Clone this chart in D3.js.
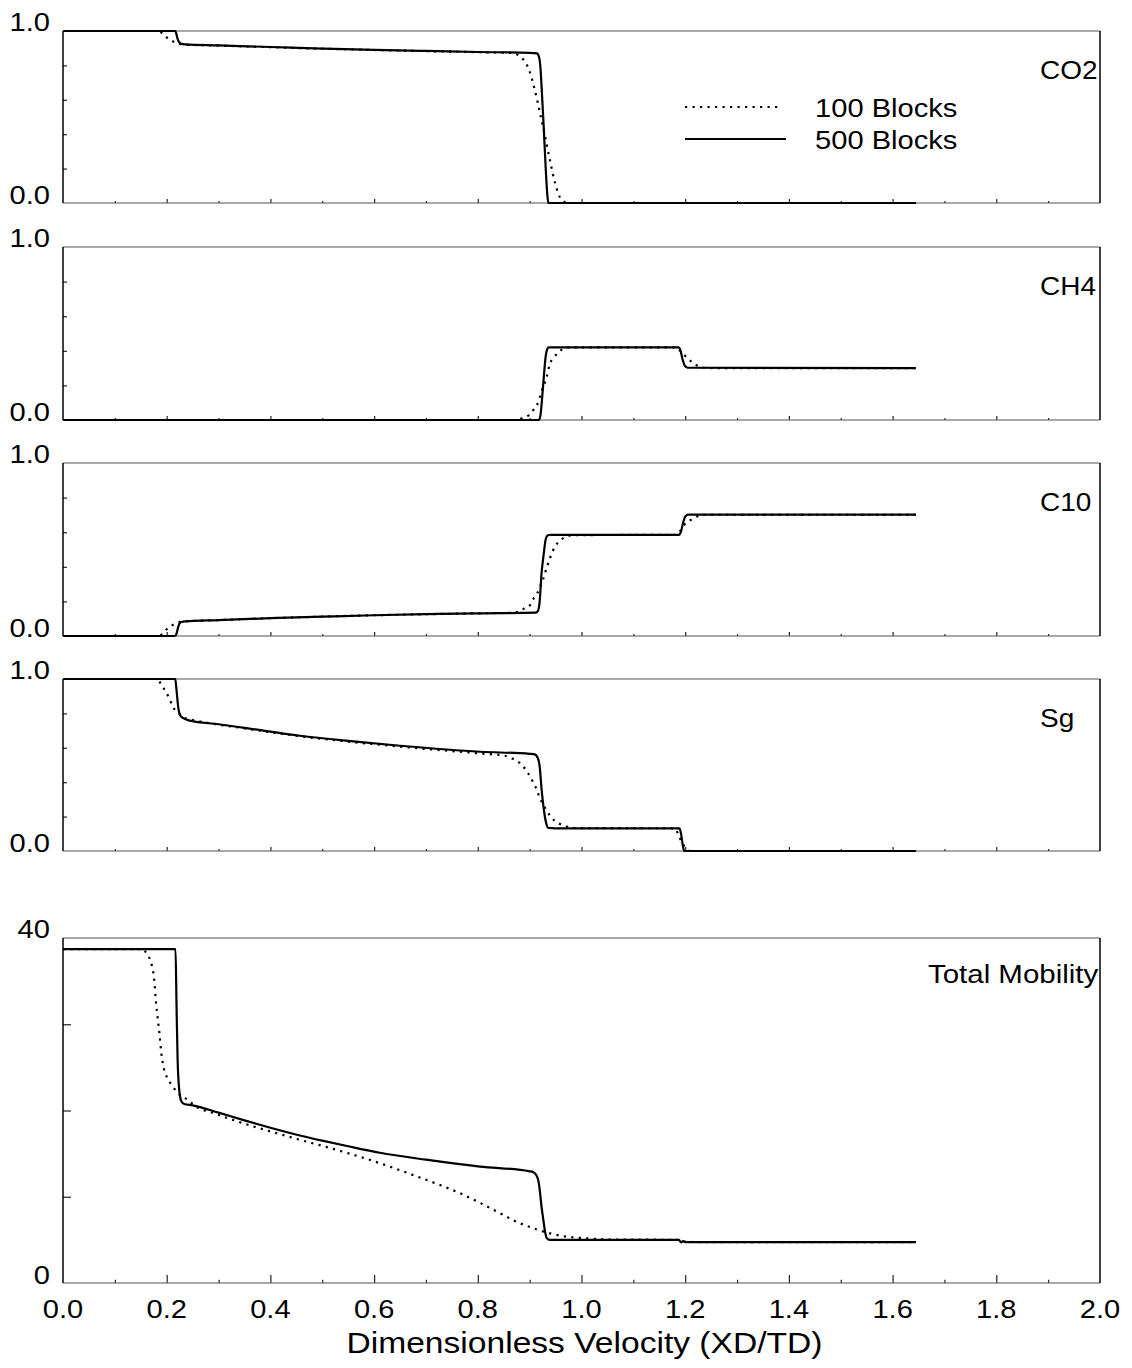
<!DOCTYPE html>
<html>
<head>
<meta charset="utf-8">
<script src="https://cdn.jsdelivr.net/npm/d3@7"></script>
<style>
  html, body { margin: 0; padding: 0; background: #fff; }
  svg { display: block; font-family: "Liberation Sans", Arial, sans-serif; }
</style>
</head>
<body>
<svg id="chart" width="1132" height="1368"></svg>
<script>
// Dimensionless velocity profiles, coarse (100 blocks) vs fine (500 blocks) grid.
// Each profile is a list of [XD/TD, value] pairs.

const xTickValues = [0, 0.2, 0.4, 0.6, 0.8, 1.0, 1.2, 1.4, 1.6, 1.8, 2.0];
const xTickLabels = ["0.0", "0.2", "0.4", "0.6", "0.8", "1.0", "1.2", "1.4", "1.6", "1.8", "2.0"];
const seriesNames = ["100 Blocks", "500 Blocks"];
const panelNames = ["CO2", "CH4", "C10", "Sg", "Total Mobility"];

const co2Coarse = [[0,1],[0.18,1],[0.1915,0.988],[0.2,0.963],[0.2116,0.94],[0.222,0.927],[0.235,0.921],[0.3,0.915],[0.5,0.897],[0.7,0.883],[0.8,0.877],[0.865,0.872],[0.878,0.86],[0.887,0.837],[0.899,0.773],[0.91,0.657],[0.92,0.523],[0.93,0.384],[0.939,0.25],[0.949,0.116],[0.962,0.017],[0.974,0],[1.645,0]];
const co2Fine = [[0,1],[0.2165,1],[0.2185,0.985],[0.221,0.955],[0.224,0.935],[0.228,0.925],[0.235,0.922],[0.3,0.916],[0.4,0.907],[0.5,0.898],[0.6,0.89],[0.7,0.884],[0.8,0.878],[0.9,0.873],[0.914,0.87],[0.918,0.85],[0.921,0.78],[0.923,0.677],[0.927,0.45],[0.931,0.2],[0.934,0.05],[0.936,0],[1.645,0]];

const ch4Coarse = [[0,0],[0.87,0],[0.885,0.01],[0.899,0.029],[0.907,0.058],[0.915,0.092],[0.923,0.164],[0.933,0.25],[0.939,0.324],[0.947,0.362],[0.957,0.395],[0.968,0.415],[0.98,0.42],[1.18,0.42],[1.188,0.405],[1.208,0.347],[1.221,0.318],[1.238,0.302],[1.26,0.3],[1.645,0.3]];
const ch4Fine = [[0,0],[0.918,0],[0.921,0.03],[0.926,0.2],[0.931,0.37],[0.934,0.41],[0.937,0.42],[1.187,0.42],[1.19,0.41],[1.195,0.35],[1.2,0.31],[1.205,0.302],[1.645,0.3]];

const c10Coarse = [[0,0],[0.18,0],[0.1915,0.01],[0.2,0.039],[0.2116,0.064],[0.222,0.078],[0.235,0.084],[0.3,0.092],[0.4,0.103],[0.5,0.112],[0.6,0.12],[0.7,0.126],[0.8,0.131],[0.86,0.134],[0.878,0.14],[0.89,0.16],[0.901,0.179],[0.908,0.218],[0.915,0.25],[0.921,0.289],[0.926,0.328],[0.934,0.405],[0.939,0.449],[0.944,0.487],[0.951,0.526],[0.96,0.555],[0.97,0.574],[0.985,0.583],[1.18,0.585],[1.189,0.603],[1.198,0.642],[1.211,0.671],[1.222,0.69],[1.238,0.7],[1.645,0.7]];
const c10Fine = [[0,0],[0.2165,0],[0.219,0.015],[0.222,0.05],[0.225,0.074],[0.229,0.081],[0.235,0.084],[0.3,0.092],[0.4,0.103],[0.5,0.112],[0.6,0.12],[0.7,0.126],[0.8,0.131],[0.912,0.135],[0.916,0.145],[0.919,0.19],[0.923,0.364],[0.927,0.47],[0.931,0.56],[0.935,0.582],[0.94,0.585],[1.188,0.585],[1.192,0.605],[1.196,0.655],[1.2,0.69],[1.205,0.702],[1.645,0.702]];

const sgCoarse = [[0,1],[0.18,1],[0.1915,0.959],[0.2,0.917],[0.2064,0.878],[0.2116,0.839],[0.221,0.81],[0.232,0.777],[0.2436,0.767],[0.3,0.735],[0.35,0.713],[0.457,0.667],[0.55,0.636],[0.65,0.607],[0.804,0.567],[0.852,0.554],[0.865,0.539],[0.876,0.523],[0.887,0.494],[0.894,0.465],[0.902,0.428],[0.908,0.39],[0.914,0.355],[0.919,0.312],[0.925,0.277],[0.932,0.238],[0.941,0.199],[0.949,0.174],[0.96,0.155],[0.973,0.141],[0.99,0.133],[1.18,0.132],[1.188,0.087],[1.193,0.054],[1.2,0.022],[1.209,0],[1.645,0]];
const sgFine = [[0,1],[0.2165,1],[0.2185,0.95],[0.221,0.87],[0.223,0.82],[0.227,0.785],[0.232,0.772],[0.245,0.758],[0.3,0.737],[0.35,0.716],[0.457,0.67],[0.55,0.64],[0.65,0.612],[0.804,0.577],[0.9,0.565],[0.91,0.562],[0.915,0.545],[0.919,0.5],[0.923,0.36],[0.927,0.25],[0.932,0.16],[0.936,0.134],[0.95,0.132],[1.189,0.132],[1.192,0.1],[1.195,0.04],[1.198,0],[1.645,0]];

const mobCoarse = [[0,38.7],[0.155,38.7],[0.161,38.2],[0.171,36.9],[0.176,35.1],[0.179,32.8],[0.183,30.5],[0.186,28.95],[0.189,27.0],[0.193,25.3],[0.2,23.9],[0.21,22.96],[0.222,22.0],[0.239,21.3],[0.258,20.4],[0.29,19.7],[0.328,18.9],[0.367,18.15],[0.419,17.25],[0.457,16.6],[0.5,15.9],[0.55,15.05],[0.618,13.75],[0.676,12.5],[0.727,11.36],[0.766,10.4],[0.804,9.3],[0.836,8.3],[0.875,7.1],[0.914,6.2],[0.939,5.76],[0.971,5.37],[1.01,5.18],[1.05,5.05],[1.188,5.0],[1.2,4.8],[1.22,4.75],[1.645,4.75]];
const mobFine = [[0,38.7],[0.217,38.7],[0.219,32],[0.221,26],[0.224,22.5],[0.228,21.1],[0.234,20.75],[0.25,20.6],[0.3,19.75],[0.35,18.85],[0.4,18.0],[0.457,17.1],[0.5,16.5],[0.55,15.85],[0.611,15.1],[0.7,14.3],[0.804,13.5],[0.9,12.95],[0.907,12.85],[0.913,12.5],[0.917,11.8],[0.92,10.5],[0.923,8.8],[0.926,7.5],[0.929,6.2],[0.933,5.2],[0.939,4.99],[1.188,4.99],[1.192,4.7],[1.196,4.85],[1.2,4.75],[1.645,4.75]];

// Layout
const LEFT = 63, RIGHT = 1100;
const TEXT_SX = 1.12;      // slight horizontal stretch applied to all lettering
const FONT = 26;

const panels = [
  { name: panelNames[0], top: 31,  bottom: 203,  domain: [0, 1],  yTicks: [0.2, 0.4, 0.6, 0.8], yLabels: ["0.0", "1.0"], coarse: co2Coarse, fine: co2Fine, tick: 4, minor: 2, labelX: 1040, labelSize: 25 },
  { name: panelNames[1], top: 247, bottom: 420,  domain: [0, 1],  yTicks: [0.2, 0.4, 0.6, 0.8], yLabels: ["0.0", "1.0"], coarse: ch4Coarse, fine: ch4Fine, tick: 4, minor: 2, labelX: 1040, labelSize: 25 },
  { name: panelNames[2], top: 463, bottom: 636,  domain: [0, 1],  yTicks: [0.2, 0.4, 0.6, 0.8], yLabels: ["0.0", "1.0"], coarse: c10Coarse, fine: c10Fine, tick: 4, minor: 2, labelX: 1040, labelSize: 25 },
  { name: panelNames[3], top: 679, bottom: 851,  domain: [0, 1],  yTicks: [0.2, 0.4, 0.6, 0.8], yLabels: ["0.0", "1.0"], coarse: sgCoarse,  fine: sgFine,  tick: 4, minor: 2, labelX: 1040, labelSize: 25 },
  { name: panelNames[4], top: 938, bottom: 1283, domain: [0, 40], yTicks: [10, 20, 30],         yLabels: ["0", "40"],    coarse: mobCoarse, fine: mobFine, tick: 8, minor: 3.3, labelX: 928, labelSize: 26.3, labelDy: 45 }
];

const svg = d3.select("#chart");
const x = d3.scaleLinear().domain([0, 2]).range([LEFT, RIGHT]);

function label(parent, px, py, str, anchor, size) {
  parent.append("g")
    .attr("transform", `translate(${px},${py})`)
    .append("text")
    .attr("transform", `scale(${TEXT_SX},1)`)
    .attr("text-anchor", anchor || "start")
    .attr("font-size", size || FONT)
    .attr("fill", "#000")
    .text(str);
}

const minorTicks = d3.range(1, 20, 2).map(i => i / 10);

panels.forEach((p, i) => {
  const y = d3.scaleLinear().domain(p.domain).range([p.bottom, p.top]);
  const g = svg.append("g");

  // bottom ticks (major + minor), pointing inward
  g.append("g").attr("transform", `translate(0,${p.bottom})`)
    .call(d3.axisBottom(x).tickValues(xTickValues.slice(1, -1)).tickSizeInner(-p.tick).tickSizeOuter(0).tickFormat(""))
    .call(a => a.select(".domain").remove())
    .call(a => a.selectAll("line").attr("stroke", "#222").attr("stroke-width", 1.2));
  g.append("g").attr("transform", `translate(0,${p.bottom})`)
    .call(d3.axisBottom(x).tickValues(minorTicks).tickSizeInner(-p.minor).tickSizeOuter(0).tickFormat(""))
    .call(a => a.select(".domain").remove())
    .call(a => a.selectAll("line").attr("stroke", "#222").attr("stroke-width", 1.2));

  // left ticks, pointing inward
  g.append("g").attr("transform", `translate(${LEFT},0)`)
    .call(d3.axisLeft(y).tickValues(p.yTicks).tickSizeInner(-p.tick).tickSizeOuter(0).tickFormat(""))
    .call(a => a.select(".domain").remove())
    .call(a => a.selectAll("line").attr("stroke", "#222").attr("stroke-width", 1.2));

  // frame
  g.append("line").attr("x1", LEFT).attr("x2", RIGHT).attr("y1", p.top).attr("y2", p.top).attr("stroke", "#555").attr("stroke-width", 1.2);
  g.append("line").attr("x1", LEFT).attr("x2", RIGHT).attr("y1", p.bottom).attr("y2", p.bottom).attr("stroke", "#555").attr("stroke-width", 1.2);
  g.append("line").attr("x1", LEFT).attr("x2", LEFT).attr("y1", p.top).attr("y2", p.bottom).attr("stroke", "#000").attr("stroke-width", 1.5);
  g.append("line").attr("x1", RIGHT).attr("x2", RIGHT).attr("y1", p.top).attr("y2", p.bottom).attr("stroke", "#000").attr("stroke-width", 1.5);

  // y labels: bottom value and top value
  label(g, 50, y(p.domain[0]) + 1, p.yLabels[0], "end");
  label(g, 50, y(p.domain[1]), p.yLabels[1], "end");

  // panel name
  label(g, p.labelX, p.top + (p.labelDy || 48), p.name, "start", p.labelSize);

  const line = d3.line().x(d => x(d[0])).y(d => y(d[1])).curve(d3.curveMonotoneX);

  g.append("path").datum(p.coarse)
    .attr("d", line).attr("fill", "none").attr("stroke", "#000")
    .attr("stroke-width", 2.2).attr("stroke-dasharray", "2.2,5.3");
  g.append("path").datum(p.fine)
    .attr("d", line).attr("fill", "none").attr("stroke", "#000")
    .attr("stroke-width", 2.2);

  // x tick labels on the bottom panel only
  if (i === panels.length - 1) {
    xTickValues.forEach((v, k) => label(g, x(v), 1318, xTickLabels[k], "middle"));
    label(g, (LEFT + RIGHT) / 2 + 3, 1353, "Dimensionless Velocity (XD/TD)", "middle", 30);
  }
});

// legend
const lg = svg.append("g");
lg.append("line").attr("x1", 685).attr("x2", 782).attr("y1", 107).attr("y2", 107)
  .attr("stroke", "#000").attr("stroke-width", 2.2).attr("stroke-dasharray", "2.2,5.3");
lg.append("line").attr("x1", 685).attr("x2", 786).attr("y1", 139).attr("y2", 139)
  .attr("stroke", "#000").attr("stroke-width", 2.2);
label(lg, 815, 116.5, seriesNames[0], "start", 26);
label(lg, 815, 148.5, seriesNames[1], "start", 26);
</script>
</body>
</html>
